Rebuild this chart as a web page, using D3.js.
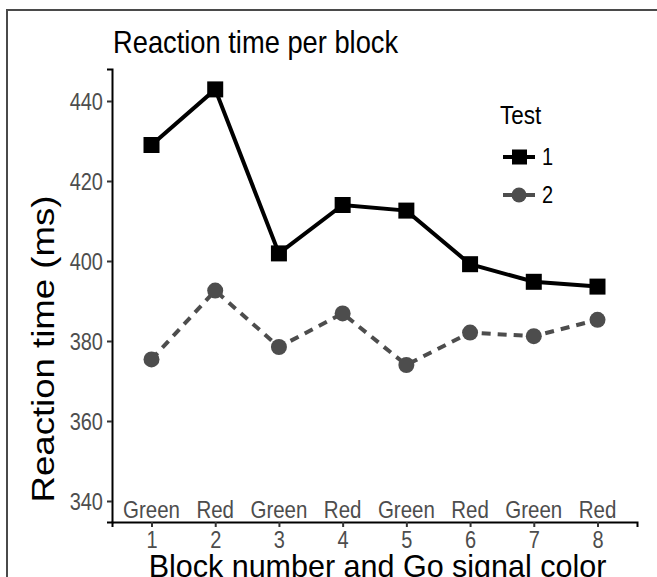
<!DOCTYPE html>
<html>
<head>
<meta charset="utf-8">
<script src="https://cdn.jsdelivr.net/npm/d3@7"></script>
<style>
  body { margin: 0; background: #fff; }
  text { font-family: "Liberation Sans", Arial, sans-serif; }
</style>
</head>
<body>
<div id="chart"></div>
<script>
// block numbers, go-signal colour per block, and mean RT for each test
var blocks = [1, 2, 3, 4, 5, 6, 7, 8];
var signalColors = ["Green", "Red", "Green", "Red", "Green", "Red", "Green", "Red"];
var test1 = [429, 442.9, 401.9, 414, 412.6, 399.2, 394.8, 393.6];
var test2 = [375.4, 392.6, 378.5, 386.9, 374, 382.1, 381.2, 385.3];
var yTicks = [340, 360, 380, 400, 420, 440];
var labelLevel = 338;

var W = 657, H = 577;
var pLeft = 112, pRight = 637, pTop = 69, pBottom = 522;
var SY = 1.18; // source image was stretched vertically, text glyphs are taller than wide

var svg = d3.select("#chart").append("svg")
    .attr("width", W)
    .attr("height", H);

function stretched(sel, tx, ty, s) {
    return sel.attr("x", 0).attr("y", 0)
        .attr("transform", "translate(" + tx + "," + ty + ") scale(1," + (s || SY) + ")");
}

// cropped frame (left + top edge)
svg.append("path")
    .attr("d", "M7," + H + "V10H" + W)
    .attr("fill", "none")
    .attr("stroke", "#4a4a4a")
    .attr("stroke-width", 2);

var x = d3.scaleLinear()
    .domain([0.38, 8.62])
    .range([pLeft, pRight]);

var y = d3.scaleLinear()
    .domain([334.75, 448])
    .range([pBottom, pTop]);

// axes
var xAxis = svg.append("g")
    .attr("transform", "translate(0," + pBottom + ")")
    .call(d3.axisBottom(x).tickValues(blocks).tickSize(5).tickPadding(3).tickFormat(d3.format("d")));
var yAxis = svg.append("g")
    .attr("transform", "translate(" + pLeft + ",0)")
    .call(d3.axisLeft(y).tickValues(yTicks).tickSize(5).tickPadding(3));

[xAxis, yAxis].forEach(function (g) {
    g.attr("font-size", null).attr("font-family", null);
    g.select(".domain").attr("stroke", "#000").attr("stroke-width", 2);
    g.selectAll(".tick line").attr("stroke", "#333").attr("stroke-width", 2);
    g.selectAll(".tick text")
        .attr("fill", "#4D4D4D")
        .style("font-size", "20px");
});
stretched(xAxis.selectAll(".tick text"), 0, 26).attr("dy", null);
stretched(yAxis.selectAll(".tick text"), -9, 0).attr("dy", "0.36em");

// go signal labels
svg.append("g").selectAll("text")
    .data(blocks)
    .enter().append("text")
    .attr("text-anchor", "middle")
    .attr("fill", "#4D4D4D")
    .style("font-size", "20.5px")
    .attr("dy", "0.36em")
    .text(function (d, i) { return signalColors[i]; })
    .each(function (d) { stretched(d3.select(this), x(d), y(labelLevel)); });

var line = d3.line()
    .x(function (d) { return x(d.block); })
    .y(function (d) { return y(d.rt); });

function pts(values) {
    return values.map(function (v, i) { return { block: blocks[i], rt: v }; });
}

// test 2 (dashed grey, circles)
svg.append("path")
    .datum(pts(test2))
    .attr("d", line)
    .attr("fill", "none")
    .attr("stroke", "#4D4D4D")
    .attr("stroke-width", 4)
    .attr("stroke-dasharray", "9,7");

svg.append("g").selectAll("circle")
    .data(pts(test2))
    .enter().append("circle")
    .attr("cx", function (d) { return x(d.block); })
    .attr("cy", function (d) { return y(d.rt); })
    .attr("r", 8)
    .attr("fill", "#4D4D4D");

// test 1 (solid black, squares)
svg.append("path")
    .datum(pts(test1))
    .attr("d", line)
    .attr("fill", "none")
    .attr("stroke", "#000")
    .attr("stroke-width", 4);

svg.append("g").selectAll("rect")
    .data(pts(test1))
    .enter().append("rect")
    .attr("x", function (d) { return x(d.block) - 8; })
    .attr("y", function (d) { return y(d.rt) - 8; })
    .attr("width", 16)
    .attr("height", 16)
    .attr("fill", "#000");

// titles
stretched(svg.append("text"), 113, 53)
    .style("font-size", "27.3px")
    .attr("fill", "#000")
    .text("Reaction time per block");

stretched(svg.append("text"), (pLeft + pRight) / 2 + 3, 576.5, 1.0)
    .attr("text-anchor", "middle")
    .style("font-size", "30.5px")
    .attr("fill", "#000")
    .text("Block number and Go signal color");

svg.append("text")
    .attr("transform", "translate(54,349) rotate(-90) scale(" + SY + ",1)")
    .attr("text-anchor", "middle")
    .style("font-size", "31px")
    .attr("fill", "#000")
    .text("Reaction time (ms)");

// legend
var legend = svg.append("g").attr("transform", "translate(500,0)");
stretched(legend.append("text"), 0, 124)
    .style("font-size", "22.5px")
    .text("Test");

var keys = [
    { label: "1", color: "#000", shape: "square", ky: 157 },
    { label: "2", color: "#4D4D4D", shape: "circle", ky: 195 }
];
keys.forEach(function (k) {
    legend.append("line")
        .attr("x1", 3).attr("x2", 35)
        .attr("y1", k.ky).attr("y2", k.ky)
        .attr("stroke", k.color)
        .attr("stroke-width", 4);
    if (k.shape === "square") {
        legend.append("rect")
            .attr("x", 12).attr("y", k.ky - 7.5)
            .attr("width", 15).attr("height", 15)
            .attr("fill", k.color);
    } else {
        legend.append("circle")
            .attr("cx", 19).attr("cy", k.ky)
            .attr("r", 7.5)
            .attr("fill", k.color);
    }
    stretched(legend.append("text"), 42, k.ky)
        .attr("dy", "0.36em")
        .style("font-size", "20px")
        .text(k.label);
});
</script>
</body>
</html>
